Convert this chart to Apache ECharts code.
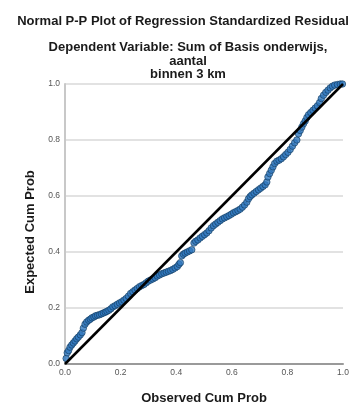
<!DOCTYPE html>
<html><head><meta charset="utf-8">
<script src="https://cdn.jsdelivr.net/npm/echarts@6/dist/echarts.min.js"></script>
<style>html,body{margin:0;padding:0;background:#fff}#c{width:351px;height:405px}</style>
</head><body><div id="c"></div>
<script>
var titleText = "Normal P-P Plot of Regression Standardized Residual";
var subtitleText = "Dependent Variable: Sum of Basis onderwijs,\naantal\nbinnen 3 km";
var xAxisName = "Observed Cum Prob";
var yAxisName = "Expected Cum Prob";
var tickValues = [0.0, 0.2, 0.4, 0.6, 0.8, 1.0];
var observed = [0.004,0.008,0.013,0.018,0.024,0.030,0.036,0.042,0.048,0.055,0.061,0.066,0.072,0.078,0.085,0.091,0.097,0.104,0.110,0.117,0.124,0.131,0.138,0.145,0.151,0.158,0.165,0.172,0.180,0.188,0.196,0.204,0.212,0.220,0.228,0.236,0.244,0.252,0.260,0.268,0.276,0.284,0.292,0.300,0.308,0.316,0.324,0.332,0.340,0.348,0.356,0.364,0.372,0.380,0.388,0.396,0.404,0.410,0.415,0.420,0.426,0.432,0.440,0.448,0.456,0.464,0.470,0.478,0.486,0.494,0.502,0.510,0.518,0.526,0.534,0.542,0.550,0.558,0.566,0.574,0.582,0.590,0.598,0.606,0.614,0.622,0.630,0.638,0.646,0.654,0.660,0.666,0.672,0.680,0.688,0.696,0.704,0.712,0.720,0.726,0.730,0.736,0.742,0.748,0.754,0.762,0.770,0.778,0.786,0.794,0.802,0.810,0.818,0.826,0.834,0.840,0.846,0.852,0.858,0.864,0.870,0.876,0.884,0.892,0.900,0.908,0.916,0.922,0.930,0.938,0.946,0.954,0.962,0.970,0.980,0.990,0.998];
var expected = [0.020,0.040,0.048,0.060,0.068,0.075,0.082,0.090,0.096,0.104,0.112,0.128,0.142,0.150,0.156,0.160,0.165,0.168,0.172,0.174,0.176,0.179,0.182,0.185,0.188,0.192,0.197,0.204,0.208,0.213,0.218,0.222,0.228,0.234,0.242,0.252,0.258,0.264,0.270,0.276,0.280,0.284,0.290,0.296,0.300,0.304,0.308,0.314,0.318,0.322,0.325,0.328,0.331,0.334,0.338,0.343,0.348,0.356,0.362,0.386,0.392,0.396,0.400,0.404,0.408,0.432,0.438,0.443,0.450,0.456,0.462,0.468,0.476,0.486,0.494,0.500,0.506,0.512,0.518,0.522,0.526,0.530,0.535,0.540,0.544,0.548,0.553,0.560,0.568,0.578,0.590,0.598,0.604,0.610,0.616,0.622,0.628,0.634,0.640,0.650,0.668,0.680,0.692,0.704,0.716,0.724,0.728,0.733,0.740,0.748,0.756,0.766,0.778,0.790,0.800,0.822,0.834,0.846,0.858,0.868,0.880,0.890,0.898,0.906,0.914,0.922,0.934,0.948,0.960,0.970,0.978,0.986,0.992,0.996,0.998,1.000,1.000];
var diagonalX = [0, 1];
var diagonalY = [0, 1];

var pts = observed.map(function(v,i){return [v, expected[i]];});
var diag = diagonalX.map(function(v,i){return [v, diagonalY[i]];});
var fmt = function(v){return v.toFixed(1);};
var chart = echarts.init(document.getElementById('c'), null, {renderer:'canvas'});
chart.setOption({
  animation:false,
  backgroundColor:'#ffffff',
  title:[
    {text:titleText, left:178, textAlign:'center', top:10, textStyle:{fontFamily:'Liberation Sans', fontSize:13, fontWeight:'bold', color:'#1a1a1a'}},
    {text:subtitleText, left:183, textAlign:'center', top:36, textStyle:{fontFamily:'Liberation Sans', fontSize:13, fontWeight:'bold', color:'#1a1a1a', lineHeight:13.5}}
  ],
  grid:{left:65, right:8, top:84, bottom:41, outerBoundsMode:'none', containLabel:false},
  xAxis:{type:'value', min:0, max:1, interval:0.2,
    name:xAxisName, nameLocation:'middle', nameGap:28,
    nameTextStyle:{fontFamily:'Liberation Sans', fontSize:13, fontWeight:'bold', color:'#1a1a1a'},
    axisLine:{show:true, lineStyle:{color:'#9a9a9a', width:2}},
    axisTick:{show:false},
    splitLine:{show:false},
    axisLabel:{formatter:fmt, fontFamily:'Liberation Sans', fontSize:8.5, color:'#555', margin:4}
  },
  yAxis:{type:'value', min:0, max:1, interval:0.2,
    name:yAxisName, nameLocation:'middle', nameGap:26,
    nameTextStyle:{fontFamily:'Liberation Sans', fontSize:13, fontWeight:'bold', color:'#1a1a1a', padding:[0,16,0,0]},
    axisLine:{show:true, lineStyle:{color:'#c8c8c8', width:2}},
    axisTick:{show:false},
    splitLine:{show:true, lineStyle:{color:'#d9d9d9', width:1.5}},
    axisLabel:{formatter:fmt, fontFamily:'Liberation Sans', fontSize:8.5, color:'#555', margin:5}
  },
  series:[
    {type:'scatter', data:pts, symbol:'circle', symbolSize:6.5,
     itemStyle:{color:'#2f78bf', borderColor:'#123a5e', borderWidth:0.8}},
    {type:'line', data:diag, symbol:'none', lineStyle:{color:'#000', width:2.5}, z:3}
  ]
});
</script></body></html>
